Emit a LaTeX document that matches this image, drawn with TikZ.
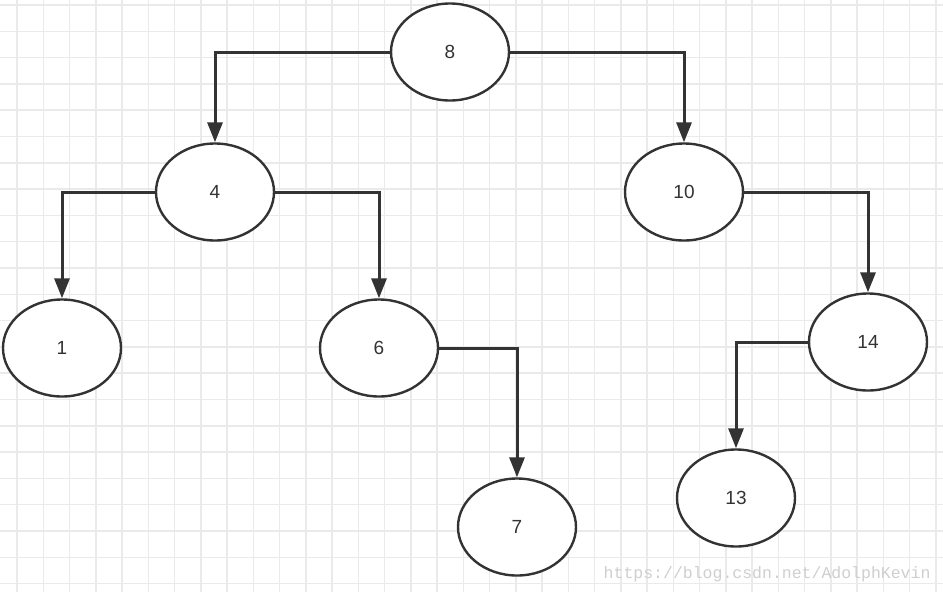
\documentclass[tikz,border=0pt]{standalone}
\usepackage{fontspec}
\setmainfont{Liberation Sans}
\newfontfamily\wmfont{Liberation Mono}
\usetikzlibrary{shapes.geometric,arrows.meta}
\definecolor{gridc}{HTML}{EAEAEA}
\definecolor{linec}{HTML}{333333}
\definecolor{wmc}{HTML}{CFCFCF}
\tikzset{
  tnode/.style={ellipse,draw=linec,line width=2.4pt,minimum width=118pt,minimum height=97pt,inner sep=0pt,font=\fontsize{19}{21}\selectfont,text=linec,fill=white},
  conn/.style={draw=linec,line width=3pt,-{Triangle[length=20pt,width=15pt]}},
}
\begin{document}
\begin{tikzpicture}[x=1pt,y=-1pt]
\useasboundingbox (0,0) rectangle (943,592);
\fill[white] (0,0) rectangle (943,592);
\foreach \i in {0,...,35} {\draw[gridc,line width=1.5pt] ({17+26.25*\i},0) -- ({17+26.25*\i},592);}
\foreach \j in {0,...,22} {\draw[gridc,line width=1.5pt] (0,{5+26.3*\j}) -- (943,{5+26.3*\j});}
\node[tnode] (n8) at (450,52) {8};
\node[tnode] (n4) at (215,192) {4};
\node[tnode] (n10) at (684,192) {10};
\node[tnode] (n1) at (62,348) {1};
\node[tnode] (n6) at (379,348) {6};
\node[tnode] (n14) at (868,342) {14};
\node[tnode] (n7) at (517,527) {7};
\node[tnode] (n13) at (736,498) {13};
\draw[conn] (n8.west) -| (n4.north);
\draw[conn] (n8.east) -| (n10.north);
\draw[conn] (n4.west) -| (n1.north);
\draw[conn] (n4.east) -| (n6.north);
\draw[conn] (n10.east) -| (n14.north);
\draw[conn] (n6.east) -| (n7.north);
\draw[conn] (n14.west) -| (n13.north);
\node[anchor=east,text=wmc,font=\wmfont\fontsize{16.5}{18}\selectfont] (wm) at (934,574) {https://blog.csdn.net/AdolphKevin};
\end{tikzpicture}
\end{document}
